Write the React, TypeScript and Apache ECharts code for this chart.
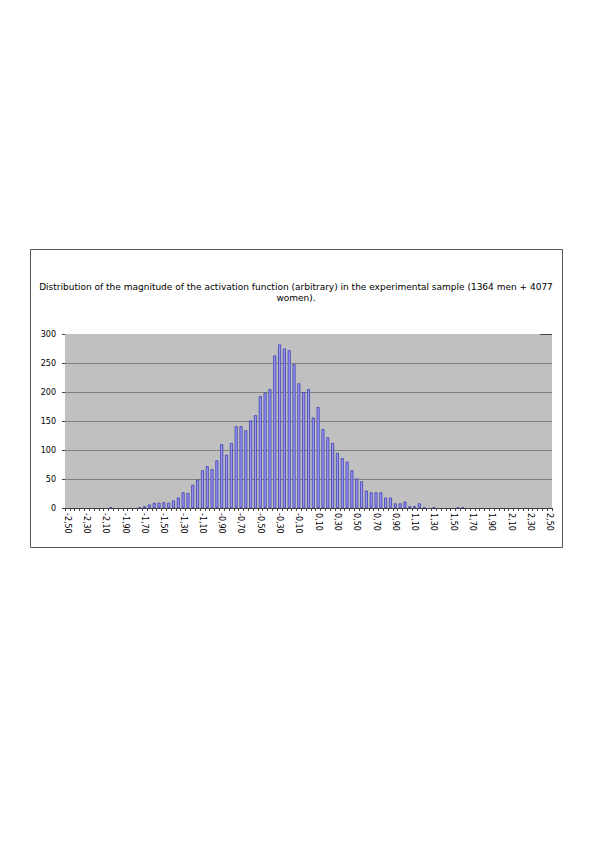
import React, { useEffect, useRef } from "react";
import * as echarts from "echarts";

const titleLines = [
  "Distribution of the magnitude of the activation function (arbitrary) in the experimental sample (1364 men + 4077",
  "women).",
];

const categories = [
  "-2,50", "-2,45", "-2,40", "-2,35", "-2,30", "-2,25", "-2,20", "-2,15", "-2,10", "-2,05",
  "-2,00", "-1,95", "-1,90", "-1,85", "-1,80", "-1,75", "-1,70", "-1,65", "-1,60", "-1,55",
  "-1,50", "-1,45", "-1,40", "-1,35", "-1,30", "-1,25", "-1,20", "-1,15", "-1,10", "-1,05",
  "-1,00", "-0,95", "-0,90", "-0,85", "-0,80", "-0,75", "-0,70", "-0,65", "-0,60", "-0,55",
  "-0,50", "-0,45", "-0,40", "-0,35", "-0,30", "-0,25", "-0,20", "-0,15", "-0,10", "-0,05",
  "0,00", "0,05", "0,10", "0,15", "0,20", "0,25", "0,30", "0,35", "0,40", "0,45",
  "0,50", "0,55", "0,60", "0,65", "0,70", "0,75", "0,80", "0,85", "0,90", "0,95",
  "1,00", "1,05", "1,10", "1,15", "1,20", "1,25", "1,30", "1,35", "1,40", "1,45",
  "1,50", "1,55", "1,60", "1,65", "1,70", "1,75", "1,80", "1,85", "1,90", "1,95",
  "2,00", "2,05", "2,10", "2,15", "2,20", "2,25", "2,30", "2,35", "2,40", "2,45",
  "2,50",
];

const counts = [
  0, 0, 0, 0, 0, 0, 0, 0, 0, 1,
  0, 0, 0, 0, 0, 1, 3, 6, 9, 9,
  10, 9, 13, 18, 27, 26, 40, 49, 65, 72,
  67, 82, 110, 92, 112, 141, 141, 134, 151, 160,
  193, 199, 205, 263, 282, 275, 272, 248, 215, 200,
  205, 156, 174, 136, 122, 112, 95, 86, 80, 65,
  51, 46, 30, 27, 27, 27, 18, 18, 8, 8,
  11, 3, 3, 8, 1, 0, 1, 0, 0, 0,
  0, 1, 1, 0, 0, 0, 0, 0, 0, 0,
  0, 0, 0, 0, 0, 0, 0, 0, 0, 0,
  0,
];

const yTicks = [0, 50, 100, 150, 200, 250, 300];

export default function App() {
  const ref = useRef<HTMLDivElement>(null);
  useEffect(() => {
    if (!ref.current) return;
    const chart = echarts.init(ref.current, null, { renderer: "svg" });
    const font = "DejaVu Sans";
    chart.setOption({
      animation: false,
      backgroundColor: "#ffffff",
      textStyle: { fontFamily: font },
      graphic: [
        {
          type: "rect",
          shape: { x: 30.5, y: 249.5, width: 532, height: 298 },
          style: { fill: "none", stroke: "#555555", lineWidth: 1 },
          silent: true,
          z: 0,
        },
        {
          type: "text",
          x: 296,
          y: 287,
          style: {
            text: titleLines[0],
            fontFamily: font,
            fontSize: 9,
            fill: "#000000",
            align: "center",
            verticalAlign: "middle",
          },
          silent: true,
        },
        {
          type: "text",
          x: 296,
          y: 298,
          style: {
            text: titleLines[1],
            fontFamily: font,
            fontSize: 9,
            fill: "#000000",
            align: "center",
            verticalAlign: "middle",
          },
          silent: true,
        },
        {
          type: "line",
          shape: { x1: 540, y1: 334.5, x2: 552, y2: 334.5 },
          style: { stroke: "#404040", lineWidth: 1 },
          silent: true,
          z: 10,
        },
      ],
      grid: {
        left: 65,
        right: 43,
        top: 334,
        bottom: 334,
        show: true,
        backgroundColor: "#c0c0c0",
        borderWidth: 0,
        containLabel: false,
      },
      xAxis: {
        type: "category",
        data: categories,
        boundaryGap: true,
        axisLine: { show: true, lineStyle: { color: "#404040", width: 1 } },
        axisTick: {
          show: true,
          interval: 0,
          length: 3,
          lineStyle: { color: "#404040" },
        },
        axisLabel: {
          interval: 3,
          rotate: -90,
          fontSize: 8,
          color: "#000000",
          margin: 5,
          fontFamily: font,
        },
        splitLine: { show: false },
      },
      yAxis: {
        type: "value",
        min: 0,
        max: 300,
        interval: 50,
        axisLine: { show: false },
        axisTick: { show: true, length: 3, lineStyle: { color: "#404040" } },
        axisLabel: {
          fontSize: 8,
          color: "#000000",
          margin: 9,
          fontFamily: font,
          formatter: (v: number) => (yTicks.includes(v) ? String(v) : ""),
        },
        splitLine: {
          show: true,
          lineStyle: {
            color: ["#808080", "#808080", "#808080", "#808080", "#808080", "#808080", "rgba(0,0,0,0)"],
            width: 1,
          },
        },
      },
      series: [
        {
          type: "bar",
          data: counts.map((v) => (v === 0 ? "-" : v)),
          barWidth: 3,
          itemStyle: {
            color: "#9999ff",
            borderColor: "#3c3ca8",
            borderWidth: 0.8,
          },
        },
      ],
    });
    return () => chart.dispose();
  }, []);
  return (
    <div
      ref={ref}
      style={{ position: "fixed", left: 0, top: 0, width: 595, height: 842 }}
    />
  );
}
